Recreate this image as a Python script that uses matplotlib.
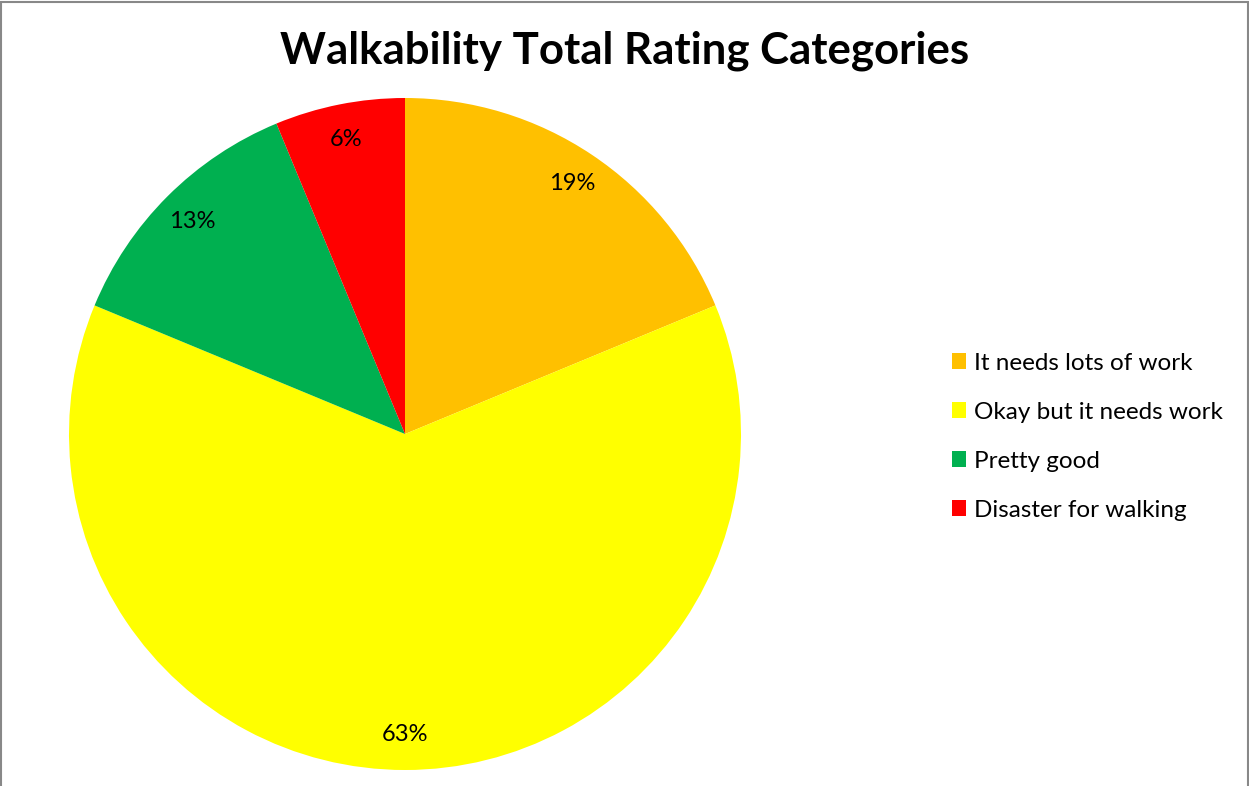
import math
import matplotlib.pyplot as plt
from matplotlib.patches import Rectangle

# Walkability ratings (counts of responses)
categories = ['It needs lots of work', 'Okay but it needs work', 'Pretty good', 'Disaster for walking']
counts = [3, 10, 2, 1]
colors = ['#FFC000', '#FFFF00', '#00B050', '#FF0000']

plt.rcParams['font.family'] = ['Lato', 'DejaVu Sans']


def pct_label(p):
    # round half up like Excel does
    return '%d%%' % math.floor(p + 0.5)


fig = plt.figure(figsize=(12.49, 7.86), dpi=100)

# pie area: centre ~ (405, 434) px, radius ~ 336 px
r = 336
ax = fig.add_axes([(405 - r) / 1249, 1 - (434 + r) / 786, 2 * r / 1249, 2 * r / 786])
wedges, texts, autotexts = ax.pie(counts, colors=colors, startangle=90, counterclock=False,
                                  autopct=pct_label, pctdistance=0.895, radius=1,
                                  wedgeprops=dict(linewidth=0),
                                  textprops=dict(fontsize=17, color='black'))
ax.set_xlim(-1, 1)
ax.set_ylim(-1, 1)
ax.set_aspect('auto')

fig.text(0.5 * (281 + 968) / 1249, 1 - 51 / 786, 'Walkability Total Rating Categories',
         ha='center', va='center', fontsize=31.5, fontweight='bold')

leg = fig.legend(wedges, categories, loc='upper left', bbox_to_anchor=(942 / 1249, 1 - 343 / 786),
                 frameon=False, fontsize=17.5, handlelength=0.6, handleheight=0.6,
                 handletextpad=0.3, labelspacing=1.15, borderaxespad=0)

# thin grey chart border
fig.patches.append(Rectangle((0.001, -0.01), 0.998, 1.008, transform=fig.transFigure,
                             fill=False, edgecolor='#888888', linewidth=1.5))

fig.savefig('out.png', dpi=100)
